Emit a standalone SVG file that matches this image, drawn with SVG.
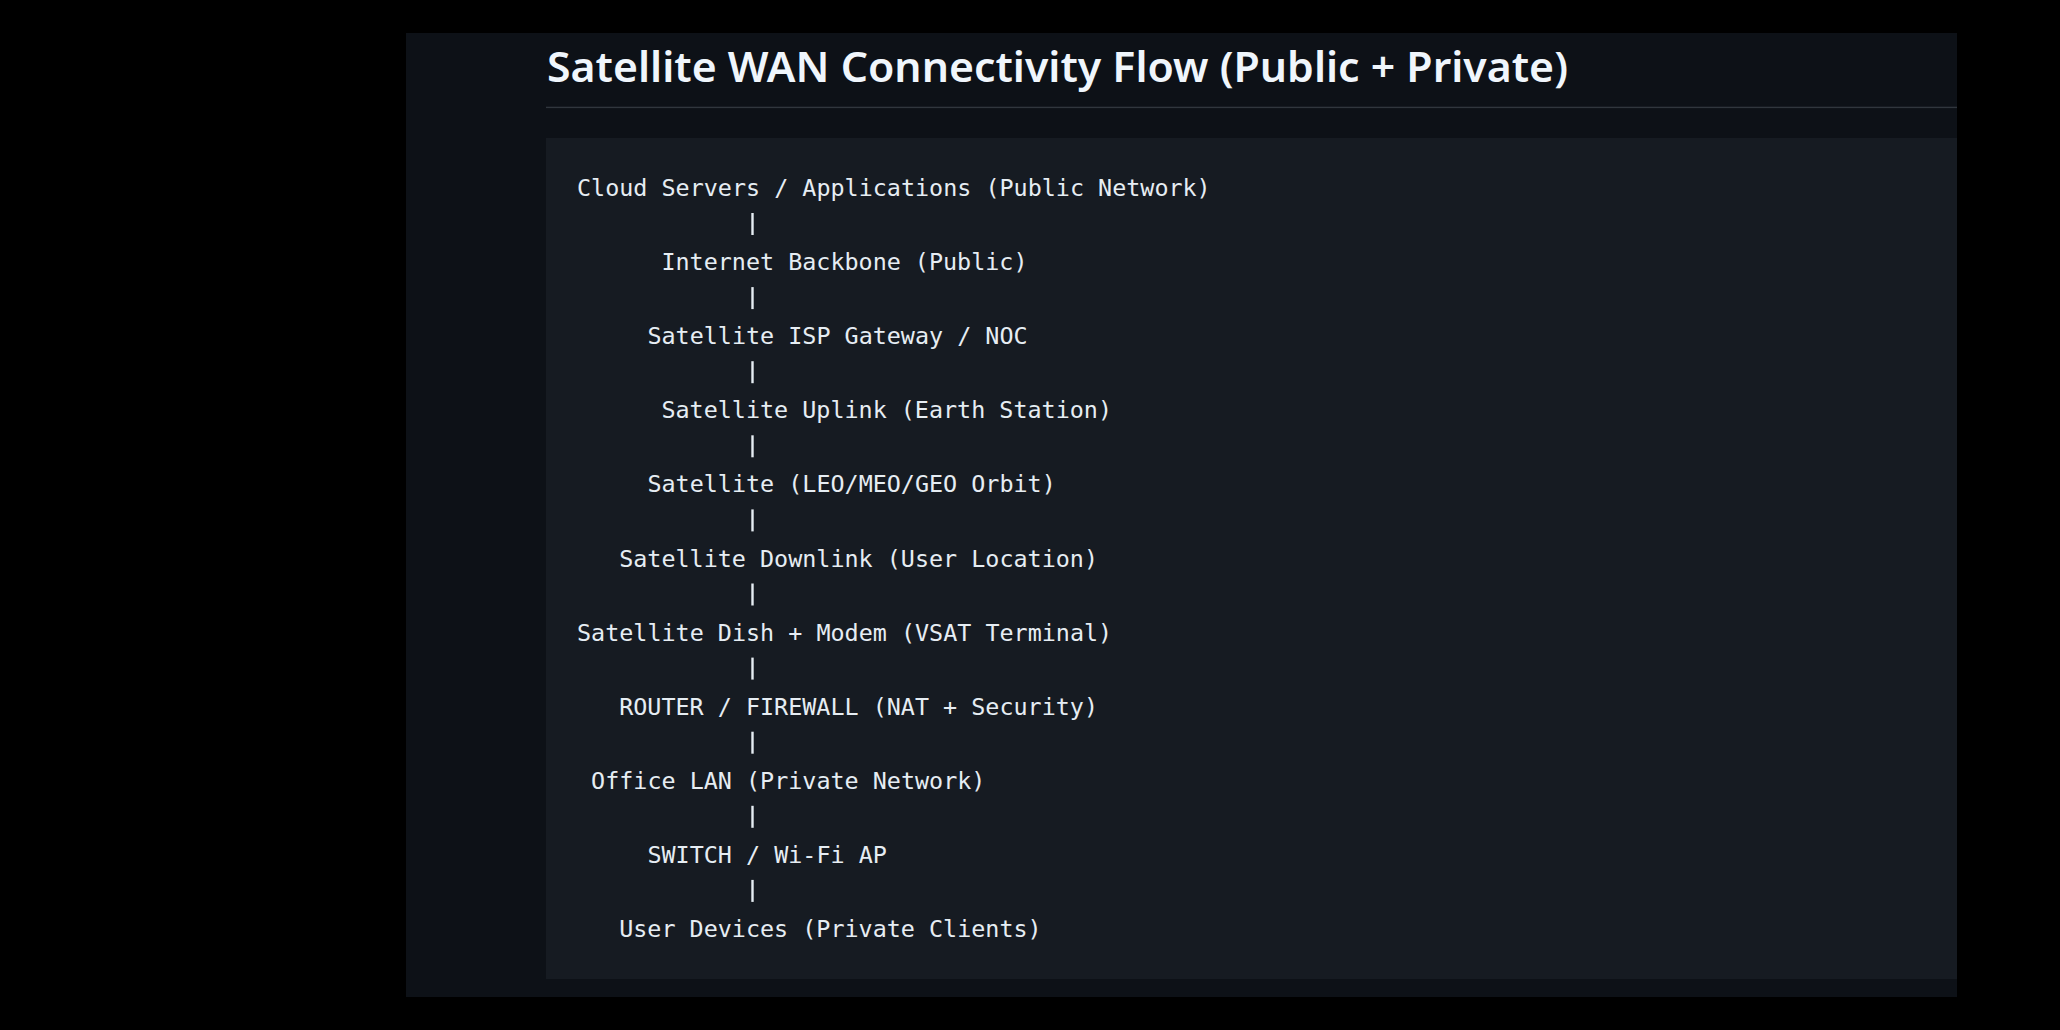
<svg xmlns="http://www.w3.org/2000/svg" width="2060" height="1030" viewBox="0 0 2060 1030">
<style>
.code{font-family:"DejaVu Sans Mono","Liberation Mono",monospace;font-size:23.4px;fill:#e6edf3;white-space:pre}
.title{font-family:"Noto Sans","Open Sans","Liberation Sans",sans-serif;font-weight:600;font-size:42px;fill:#f0f6fc}
.pipe{stroke:#e6edf3;stroke-width:2.4}
</style>
<rect x="0" y="0" width="2060" height="1030" fill="#000000"/>
<rect x="406" y="33" width="1551" height="964" fill="#0d1117"/>
<text class="title" x="547" y="82" textLength="1021" lengthAdjust="spacingAndGlyphs">Satellite WAN Connectivity Flow (Public + Private)</text>
<rect x="546" y="106.7" width="1411" height="1.4" fill="#30363d"/>
<rect x="546" y="138" width="1411" height="841" fill="#161b22"/>
<g id="connectors">
<line class="pipe" x1="752.5" y1="213" x2="752.5" y2="235"/>
<line class="pipe" x1="752.5" y1="287.1" x2="752.5" y2="309.1"/>
<line class="pipe" x1="752.5" y1="361.2" x2="752.5" y2="383.2"/>
<line class="pipe" x1="752.5" y1="435.3" x2="752.5" y2="457.3"/>
<line class="pipe" x1="752.5" y1="509.4" x2="752.5" y2="531.4"/>
<line class="pipe" x1="752.5" y1="583.5" x2="752.5" y2="605.5"/>
<line class="pipe" x1="752.5" y1="657.6" x2="752.5" y2="679.6"/>
<line class="pipe" x1="752.5" y1="731.7" x2="752.5" y2="753.7"/>
<line class="pipe" x1="752.5" y1="805.8" x2="752.5" y2="827.8"/>
<line class="pipe" x1="752.5" y1="879.9" x2="752.5" y2="901.9"/>
</g>
<g id="cloud-servers"><text class="code" x="577" y="196">Cloud Servers / Applications (Public Network)</text></g>
<g id="internet-backbone"><text class="code" x="661.4" y="270.1">Internet Backbone (Public)</text></g>
<g id="isp-gateway"><text class="code" x="647.4" y="344.2">Satellite ISP Gateway / NOC</text></g>
<g id="uplink"><text class="code" x="661.4" y="418.3">Satellite Uplink (Earth Station)</text></g>
<g id="satellite"><text class="code" x="647.4" y="492.4">Satellite (LEO/MEO/GEO Orbit)</text></g>
<g id="downlink"><text class="code" x="619.2" y="566.5">Satellite Downlink (User Location)</text></g>
<g id="vsat"><text class="code" x="577" y="640.6">Satellite Dish + Modem (VSAT Terminal)</text></g>
<g id="router"><text class="code" x="619.2" y="714.7">ROUTER / FIREWALL (NAT + Security)</text></g>
<g id="office-lan"><text class="code" x="591.1" y="788.8">Office LAN (Private Network)</text></g>
<g id="switch"><text class="code" x="647.4" y="862.9">SWITCH / Wi-Fi AP</text></g>
<g id="user-devices"><text class="code" x="619.2" y="937">User Devices (Private Clients)</text></g>
</svg>
